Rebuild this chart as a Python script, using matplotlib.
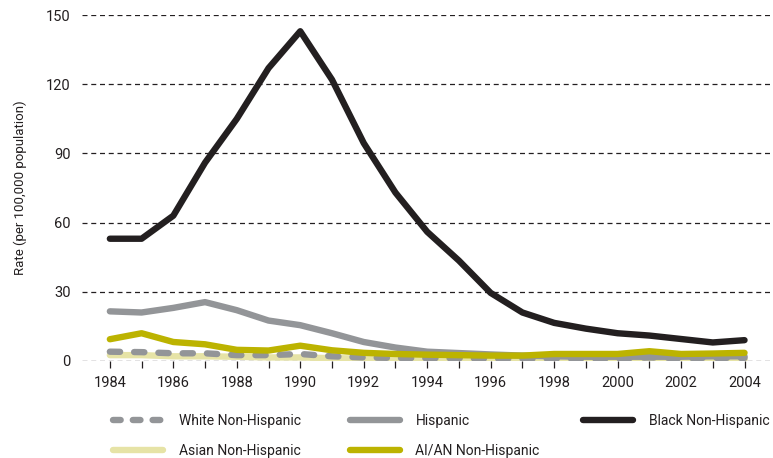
import matplotlib
matplotlib.use("Agg")
import matplotlib.pyplot as plt
from matplotlib.lines import Line2D

years = list(range(1984, 2005))
black = [53, 53, 63, 86, 105, 127, 143, 122, 94.5, 73, 56, 43.5, 29.5, 21, 16.5, 14, 12, 11, 9.5, 8, 9]
hispanic = [21.5, 21, 23, 25.5, 22, 17.5, 15.5, 12, 8.2, 5.8, 4, 3.4, 2.8, 2.3, 2, 1.8, 1.8, 1.8, 1.8, 2, 2]
aian = [9.4, 12, 8.2, 7.2, 4.8, 4.5, 6.6, 4.6, 3.5, 3, 2.7, 2.5, 2.3, 2.3, 3, 3, 3, 4.2, 3, 3.2, 3.5]
white = [4, 3.8, 3.3, 3.3, 2.5, 2.5, 3, 2, 1.5, 1.3, 1.2, 1.2, 1, 1, 1, 1, 1, 1.5, 1.2, 1.3, 1.3]
asian = [2.5, 2.5, 2, 2, 1.8, 1.5, 1.5, 1.2, 1, 1, 0.8, 0.8, 0.7, 0.7, 0.7, 0.7, 0.7, 0.7, 0.7, 0.7, 0.7]

c_black = "#231f20"
c_grey = "#939598"
c_aian = "#bcb300"
c_asian = "#e6e3a6"

plt.rcParams['font.family'] = ['Roboto', 'DejaVu Sans']

fig = plt.figure(figsize=(7.73, 4.58), dpi=100)
ax = fig.add_axes([0.106, 0.212, 0.89, 0.755])

lw = 4.6
ax.plot(years, asian, color=c_asian, lw=lw, solid_capstyle='round', zorder=2)
ax.plot(years, white, color=c_grey, lw=lw, linestyle=(0, (1.6, 2.2)), dash_capstyle='round', zorder=3)
ax.plot(years, aian, color=c_aian, lw=lw, solid_capstyle='round', zorder=4)
ax.plot(years, hispanic, color=c_grey, lw=lw, solid_capstyle='round', zorder=3)
ax.plot(years, black, color=c_black, lw=lw, solid_capstyle='round', zorder=5)

ax.set_xlim(1983.12, 2004.8)
ax.set_ylim(0, 150)
ax.set_yticks([0, 30, 60, 90, 120, 150])
ax.set_xticks(years)
ax.set_xticklabels([str(y) if y % 2 == 0 else "" for y in years])
ax.yaxis.grid(True, linestyle=(0, (4, 3)), color="#231f20", lw=0.9, zorder=1)
ax.set_axisbelow(True)
for s in ax.spines.values():
    s.set_visible(False)
ax.tick_params(axis='y', length=0, labelsize=10.5, colors="#231f20", pad=8)
ax.tick_params(axis='x', length=5, width=0.9, color="#231f20", labelsize=10.5, labelcolor="#231f20", pad=6)
ax.set_ylabel("Rate (per 100,000 population)", fontsize=9.5, color="#231f20", labelpad=14)

def h(color, ls='-'):
    if ls == '-':
        return Line2D([], [], color=color, lw=lw, solid_capstyle='round')
    return Line2D([], [], color=color, lw=lw, linestyle=ls, dash_capstyle='round')

kw = dict(frameon=False, handlelength=3.6, fontsize=10, labelspacing=1.2,
          handletextpad=1.1, loc='upper left', borderaxespad=0, borderpad=0)
l1 = fig.legend([h(c_grey, (0, (1.2, 1.9))), h(c_asian)], ["White Non-Hispanic", "Asian Non-Hispanic"],
                bbox_to_anchor=(0.1465, 0.097), **kw)
l2 = fig.legend([h(c_grey), h(c_aian)], ["Hispanic", "AI/AN Non-Hispanic"],
                bbox_to_anchor=(0.453, 0.097), **kw)
l3 = fig.legend([h(c_black)], ["Black Non-Hispanic"],
                bbox_to_anchor=(0.7545, 0.097), **kw)
for lg in (l1, l2, l3):
    for t in lg.get_texts():
        t.set_color("#231f20")

fig.savefig("out.png", dpi=100)
